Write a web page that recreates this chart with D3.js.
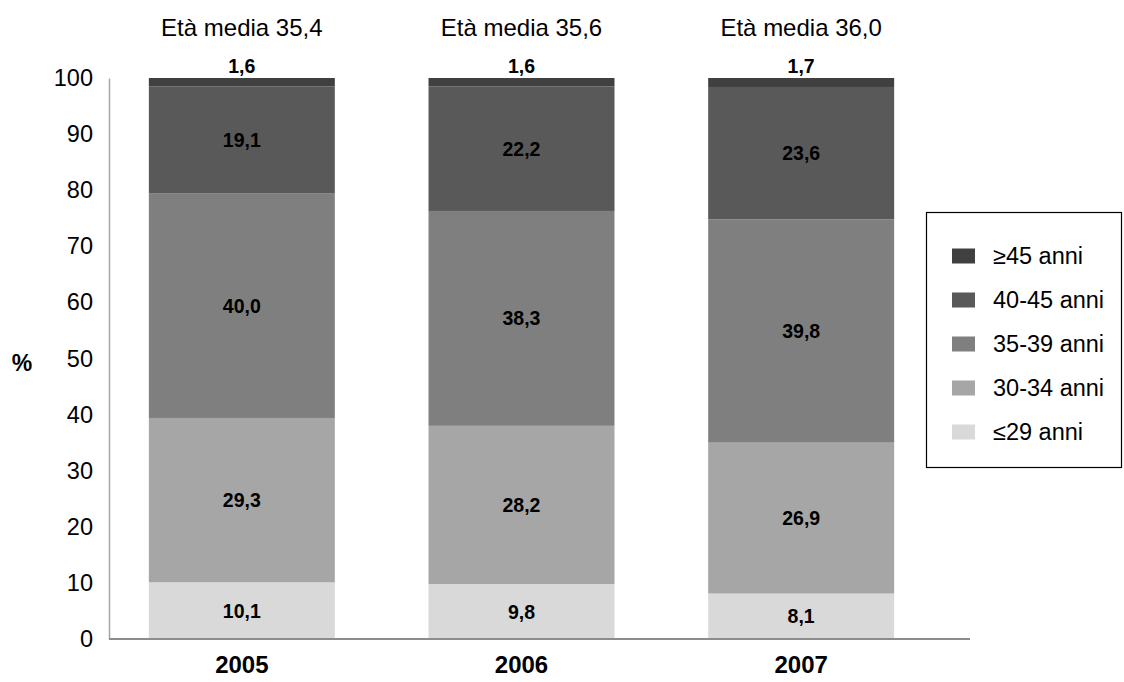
<!DOCTYPE html>
<meta charset="utf-8">
<style>
body { margin: 0; background: #fff; }
svg text { font-family: "Liberation Sans", Arial, sans-serif; fill: #000; }
.ytick text { font-size: 23.5px; }
.val { font-size: 19.5px; font-weight: bold; text-anchor: middle; }
.year { font-size: 24px; font-weight: bold; text-anchor: middle; }
.title { font-size: 24px; text-anchor: middle; }
.leg text { font-size: 23.5px; }
</style>
<svg width="1124" height="682"></svg>
<script src="https://d3js.org/d3.v7.min.js"></script>
<script>

// data
var years = ["2005", "2006", "2007"];
var meanAge = ["Età media 35,4", "Età media 35,6", "Età media 36,0"];
var groups = ["≤29 anni", "30-34 anni", "35-39 anni", "40-45 anni", "≥45 anni"];
var under29 = [10.1, 9.8, 8.1];
var age30to34 = [29.3, 28.2, 26.9];
var age35to39 = [40.0, 38.3, 39.8];
var age40to45 = [19.1, 22.2, 23.6];
var over45 = [1.6, 1.6, 1.7];
var yTicks = [0, 10, 20, 30, 40, 50, 60, 70, 80, 90, 100];

var colors = ["#d9d9d9", "#a6a6a6", "#7f7f7f", "#595959", "#404040"];
var series = [under29, age30to34, age35to39, age40to45, over45];

var svg = d3.select("svg");

var x = d3.scaleBand()
    .domain(years)
    .range([102, 941])
    .paddingInner(0.335)
    .paddingOuter(0.1675);

var y = d3.scaleLinear()
    .domain([0, 100])
    .range([639, 78])
    .clamp(true);

// y axis
var yAxis = svg.append("g")
    .attr("class", "ytick")
    .attr("transform", "translate(109,0)")
    .call(d3.axisLeft(y).tickValues(yTicks).tickSize(0).tickPadding(16));
yAxis.select(".domain").attr("stroke", "#a6a6a6").attr("stroke-width", 1.5);

// bars
var rows = years.map(function(yr, i) {
  var row = { year: yr };
  groups.forEach(function(g, k) { row[g] = series[k][i]; });
  return row;
});
var stacked = d3.stack().keys(groups)(rows);

stacked.forEach(function(layer, k) {
  svg.append("g").selectAll("rect")
    .data(layer)
    .enter().append("rect")
      .attr("x", function(d) { return x(d.data.year); })
      .attr("width", x.bandwidth())
      .attr("y", function(d) { return y(d[1]); })
      .attr("height", function(d) { return y(d[0]) - y(d[1]); })
      .attr("fill", colors[k]);
});

// x axis line
svg.append("line")
    .attr("x1", 109).attr("x2", 970)
    .attr("y1", 639).attr("y2", 639)
    .attr("stroke", "#8c8c8c").attr("stroke-width", 2);

// value labels
stacked.forEach(function(layer, k) {
  svg.append("g").selectAll("text")
    .data(layer)
    .enter().append("text")
      .attr("class", "val")
      .attr("x", function(d) { return x(d.data.year) + x.bandwidth() / 2; })
      .attr("y", function(d) {
        if (k == groups.length - 1) return y(100) - 5;
        return (y(d[0]) + y(d[1])) / 2 + 7;
      })
      .text(function(d) { return d3.format(".1f")(d[1] - d[0]).replace(".", ","); });
});

// year labels
svg.append("g").selectAll("text")
  .data(years)
  .enter().append("text")
    .attr("class", "year")
    .attr("x", function(d) { return x(d) + x.bandwidth() / 2; })
    .attr("y", 673)
    .text(function(d) { return d; });

// mean age titles
svg.append("g").selectAll("text")
  .data(years)
  .enter().append("text")
    .attr("class", "title")
    .attr("x", function(d) { return x(d) + x.bandwidth() / 2; })
    .attr("y", 36)
    .text(function(d, i) { return meanAge[i]; });

svg.append("text")
    .attr("x", 22).attr("y", 371)
    .attr("text-anchor", "middle")
    .style("font-size", "23px").style("font-weight", "bold")
    .text("%");

// legend
var leg = svg.append("g").attr("class", "leg");
leg.append("rect")
    .attr("x", 926.5).attr("y", 212.5)
    .attr("width", 195).attr("height", 255)
    .attr("fill", "none").attr("stroke", "#000").attr("stroke-width", 1.2);

var legItems = groups.slice().reverse();
var legRow = d3.scaleBand().domain(legItems).range([234, 454]);
legItems.forEach(function(g) {
  var k = groups.indexOf(g);
  var cy = legRow(g) + legRow.bandwidth() / 2;
  leg.append("rect")
      .attr("x", 952).attr("y", cy - 7.5)
      .attr("width", 23).attr("height", 15)
      .attr("fill", colors[k]);
  leg.append("text")
      .attr("x", 993).attr("y", cy + 8)
      .text(g);
});

</script>
